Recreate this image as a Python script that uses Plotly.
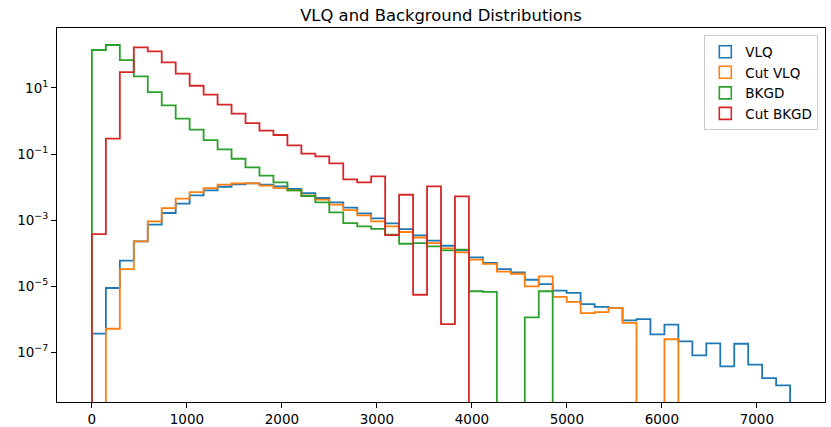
import numpy as np
import plotly.graph_objects as go

# ---- data (histogram bin contents, 50 bins of width 147 starting at 0) ----
BIN_START = 0.0
BIN_WIDTH = 147.0
N_BINS = 50

vlq = [3.7e-7, 8.9e-6, 6.0e-5, 2.29e-4, 7.3e-4, 1.65e-3, 3.16e-3, 5.65e-3, 8.0e-3, 1.03e-2,
       1.22e-2, 1.30e-2, 1.19e-2, 1.06e-2, 8.8e-3, 6.6e-3, 4.7e-3, 3.47e-3, 2.39e-3, 1.61e-3,
       1.14e-3, 8.0e-4, 5.4e-4, 3.5e-4, 2.4e-4, 1.69e-4, 1.22e-4, 7.5e-5, 5.1e-5, 3.3e-5,
       2.64e-5, 1.58e-5, 1.17e-5, 7.4e-6, 6.3e-6, 2.9e-6, 2.4e-6, 2.2e-6, 9.3e-7, 1.02e-6,
       3.5e-7, 6.9e-7, 2.15e-7, 8.1e-8, 1.87e-7, 3.8e-8, 1.83e-7, 4.3e-8, 1.68e-8, 1.0e-8]

cut_vlq = [0, 5.2e-7, 3.33e-5, 2.29e-4, 9.2e-4, 2.33e-3, 4.48e-3, 7.1e-3, 9.4e-3, 1.19e-2,
           1.30e-2, 1.30e-2, 1.12e-2, 9.4e-3, 8.0e-3, 5.65e-3, 4.18e-3, 2.95e-3, 2.03e-3, 1.40e-3,
           9.2e-4, 6.5e-4, 4.4e-4, 3.0e-4, 2.04e-4, 1.41e-4, 1.07e-4, 6.4e-5, 4.8e-5, 2.8e-5,
           2.4e-5, 1.0e-5, 2.0e-5, 4.8e-6, 3.4e-6, 1.55e-6, 1.66e-6, 2.2e-6, 7.8e-7, 0,
           0, 2.5e-7, 0, 0, 0, 0, 0, 0, 0, 0]

bkgd = [141, 200, 70, 22.5, 7.55, 2.98, 1.18, 0.547, 0.266, 0.139,
        0.0724, 0.0398, 0.0222, 0.01397, 8.0e-3, 5.4e-3, 3.47e-3, 1.73e-3, 8.2e-4, 6.5e-4,
        5.5e-4, 3.64e-4, 1.94e-4, 2.04e-4, 1.62e-4, 1.23e-4, 1.29e-4, 7.1e-6, 6.8e-6, 0,
        0, 1.15e-6, 7.1e-6, 0, 0, 0, 0, 0, 0, 0,
        0, 0, 0, 0, 0, 0, 0, 0, 0, 0]

cut_bkgd = [3.8e-4, 0.292, 30.4, 169, 128, 59.7, 27.1, 11.7, 6.27, 3.13,
            1.67, 0.87, 0.51, 0.378, 0.184, 0.103, 0.0853, 0.0524, 0.0172, 0.0140,
            0.0212, 3.56e-4, 5.9e-3, 5.56e-6, 0.01055, 7.2e-7, 5.26e-3, 0, 0, 0,
            0, 0, 0, 0, 0, 0, 0, 0, 0, 0,
            0, 0, 0, 0, 0, 0, 0, 0, 0, 0]

series_names = ["VLQ", "Cut VLQ", "BKGD", "Cut BKGD"]
series_values = [vlq, cut_vlq, bkgd, cut_bkgd]
series_colors = ["#1f77b4", "#ff7f0e", "#2ca02c", "#d62728"]

x_ticks = [0, 1000, 2000, 3000, 4000, 5000, 6000, 7000]
y_ticks = [1e1, 1e-1, 1e-3, 1e-5, 1e-7]
y_ticktext = ["10<sup>1</sup>", "10<sup>\u22121</sup>", "10<sup>\u22123</sup>",
              "10<sup>\u22125</sup>", "10<sup>\u22127</sup>"]

FONT = "DejaVu Sans"
FLOOR = 1e-14  # stands for an empty bin (below the visible log range)

edges = BIN_START + BIN_WIDTH * np.arange(N_BINS + 1)
x_min = edges[0] - 0.05 * (edges[-1] - edges[0])
x_max = edges[-1] + 0.05 * (edges[-1] - edges[0])


def step_xy(vals):
    v = np.array(vals, dtype=float)
    v[v <= 0] = FLOOR
    xs = np.concatenate([[edges[0]], edges[:-1], [edges[-1], edges[-1]]])
    ys = np.concatenate([[FLOOR], v, [v[-1], FLOOR]])
    return xs, ys


fig = go.Figure()
for name, vals, col in zip(series_names, series_values, series_colors):
    xs, ys = step_xy(vals)
    fig.add_trace(go.Scatter(x=xs, y=ys, mode="lines", line=dict(color=col, width=1.8, shape="hv"),
                             showlegend=False, hoverinfo="skip", name=name))

# legend entries (outlined boxes like the original patches)
for name, col in zip(series_names, series_colors):
    fig.add_trace(go.Bar(x=[None], y=[None], name=name,
                         marker=dict(color="rgba(0,0,0,0)", line=dict(color=col, width=1.6)),
                         showlegend=True))

axis_common = dict(showline=True, linecolor="black", linewidth=1.1, mirror=True,
                   ticks="outside", ticklen=5, tickwidth=1.1, tickcolor="black",
                   showgrid=False, zeroline=False, automargin=False,
                   tickfont=dict(family=FONT, size=13.5, color="black"))

fig.update_layout(
    width=831, height=427,
    margin=dict(l=57, r=6, t=28, b=25, pad=0),
    paper_bgcolor="white", plot_bgcolor="white",
    font=dict(family=FONT, color="black"),
    title=dict(text="VLQ and Background Distributions", x=0.5, xref="paper", xanchor="center",
               y=1 - 15 / 427, yref="container", yanchor="middle",
               font=dict(family=FONT, size=16.4, color="black")),
    xaxis=dict(range=[x_min, x_max], tickvals=x_ticks, **axis_common),
    yaxis=dict(type="log", range=[-8.5, 2.815], tickvals=y_ticks, ticktext=y_ticktext, **axis_common),
    legend=dict(x=0.9913, y=0.98, xanchor="right", yanchor="top",
                bgcolor="rgba(255,255,255,0.8)", bordercolor="#cccccc", borderwidth=1,
                font=dict(family=FONT, size=13.5, color="black"),
                itemclick=False, itemdoubleclick=False),
    showlegend=True,
)

fig.write_html("out.html", config={"displayModeBar": False},
               post_script="document.body.style.margin='0px';")
